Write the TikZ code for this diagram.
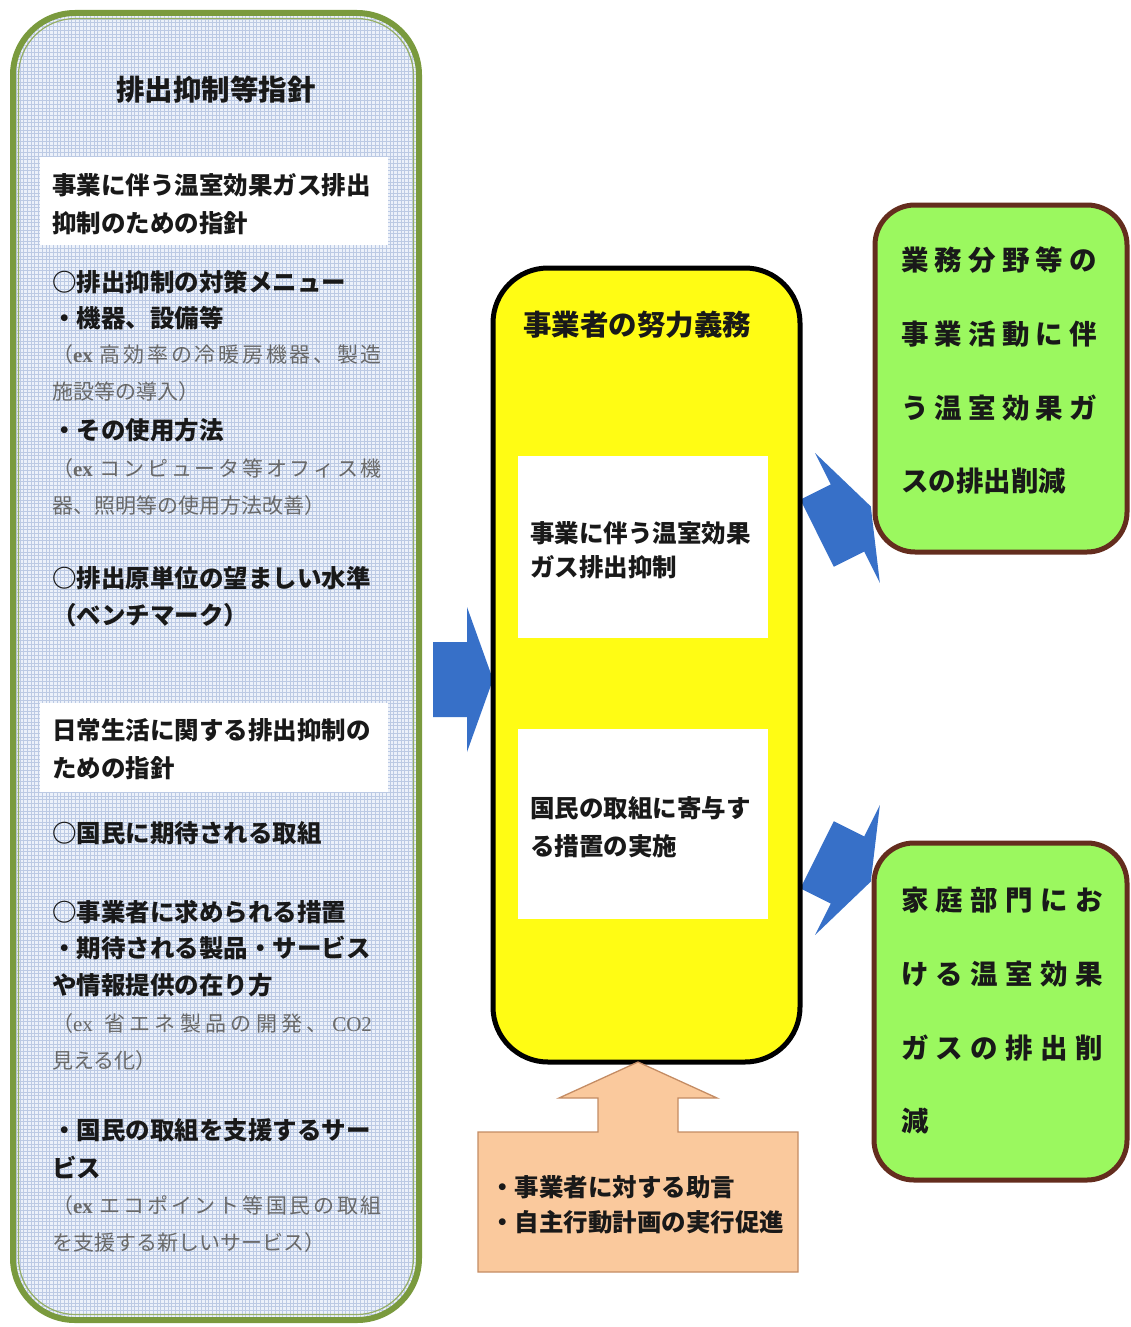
\documentclass[tikz,border=0pt]{standalone}
\usepackage{fontspec}
\setmainfont{Noto Sans CJK JP}
\newfontfamily\serifex{Liberation Serif}
\usetikzlibrary{calc}
\definecolor{guidefill}{RGB}{236,241,250}
\definecolor{gridline}{RGB}{188,202,228}
\definecolor{guidegreen}{RGB}{122,154,62}
\definecolor{dutyyellow}{RGB}{255,252,20}
\definecolor{arrowblue}{RGB}{55,112,200}
\definecolor{goalgreen}{RGB}{155,248,95}
\definecolor{goalbrown}{RGB}{100,45,30}
\definecolor{peach}{RGB}{250,201,157}
\definecolor{peachline}{RGB}{196,140,100}
\definecolor{exgray}{RGB}{105,105,105}
\definecolor{ink}{RGB}{25,25,25}
\tikzset{
  jb/.style={anchor=west, inner sep=0pt, outer sep=0pt, text=ink,
    font=\bfseries\fontsize{24.5}{30}\selectfont, text height=19.6pt, text depth=1pt},
  jg/.style={anchor=west, inner sep=0pt, outer sep=0pt, text=exgray,
    font=\fontsize{21}{26}\selectfont, text height=16.8pt, text depth=0.8pt},
  jt/.style={anchor=center, inner sep=0pt, outer sep=0pt, text=ink,
    font=\bfseries\fontsize{28.5}{34}\selectfont, text height=22.8pt, text depth=1.2pt},
  jgo/.style={anchor=west, inner sep=0pt, outer sep=0pt, text=ink,
    font=\bfseries\fontsize{27.5}{33}\selectfont, text height=22pt, text depth=1.1pt},
  guidebox/.style={draw=guidegreen, line width=6pt, fill=guidefill,
    rounded corners=62pt, inner sep=0pt, outer sep=0pt,
    path picture={\draw[gridline, line width=0.45pt, step=3.7pt]
      (path picture bounding box.south west) grid (path picture bounding box.north east);}},
  dutybox/.style={draw=black, line width=5pt, fill=dutyyellow, rounded corners=55pt,
    inner sep=0pt, outer sep=0pt},
  wbox/.style={fill=white, inner sep=0pt, outer sep=0pt},
  goalbox/.style={draw=goalbrown, line width=5pt, fill=goalgreen, rounded corners=40pt,
    inner sep=0pt, outer sep=0pt},
  advstyle/.style={draw=peachline, line width=1.3pt, fill=peach},
  barrow/.pic={\fill[arrowblue] (-34,-37.5) -- (0,-37.5) -- (0,-72.5) -- (26,0)
     -- (0,72.5) -- (0,37.5) -- (-34,37.5) -- cycle;}
}
\newcommand\exw{{\serifex\bfseries ex}\hspace{7pt}}
\newcommand\spreadline[2]{\makebox[#1][s]{\spaceskip=0pt plus 1fil\relax #2}}
\begin{document}
\begin{tikzpicture}[x=1pt,y=1pt]
\useasboundingbox[fill=white] (0,0) rectangle (1131,-1327);

% block arrows (drawn first, boxes cover their tips)
\pic (arrin) at (467,-679.5) {barrow};
\pic[rotate=26.5] (arrup) at (847.5,-518) {barrow};
\pic[rotate=-26.5] (arrdown) at (847.5,-870) {barrow};

% left guideline box
\node[guidebox, minimum width=406pt, minimum height=1307pt] (guide) at (216,-666.5) {};
\draw[guidegreen!80!white, line width=1.2pt, rounded corners=57pt]
  ($(guide.south west)+(5.5,5.5)$) rectangle ($(guide.north east)+(-5.5,-5.5)$);
\node[jt] (guidetitle) at (216,-90) {排出抑制等指針};
\node[wbox, minimum width=348pt, minimum height=88pt] (wl1) at (214,-201) {};
\node[jb] (a1) at (52,-185) {事業に伴う温室効果ガス排出};
\node[jb] (a2) at (52,-223) {抑制のための指針};
\node[jb] (a3) at (52,-282) {○排出抑制の対策メニュー};
\node[jb] (a4) at (52,-318) {・機器、設備等};
\node[jg] (a5) at (52,-354) {\spreadline{330pt}{（\exw 高 効 率 の 冷 暖 房 機 器 、 製 造}};
\node[jg] (a6) at (52,-391) {施設等の導入）};
\node[jb] (a7) at (52,-430) {・その使用方法};
\node[jg] (a8) at (52,-468) {\spreadline{330pt}{（\exw コ ン ピ ュ ー タ 等 オ フ ィ ス 機}};
\node[jg] (a9) at (52,-505) {器、照明等の使用方法改善）};
\node[jb] (a10) at (52,-578) {○排出原単位の望ましい水準};
\node[jb] (a11) at (52,-615) {（ベンチマーク）};
\node[wbox, minimum width=348pt, minimum height=89pt] (wl2) at (214,-747.5) {};
\node[jb] (b1) at (52,-730) {日常生活に関する排出抑制の};
\node[jb] (b2) at (52,-768) {ための指針};
\node[jb] (b3) at (52,-833) {○国民に期待される取組};
\node[jb] (b4) at (52,-912) {○事業者に求められる措置};
\node[jb] (b5) at (52,-948) {・期待される製品・サービス};
\node[jb] (b6) at (52,-985) {や情報提供の在り方};
\node[jg] (b7) at (52,-1023) {\spreadline{320pt}{（{\serifex ex}\hspace{7pt} 省 エ ネ 製 品 の 開 発 、 {\serifex CO2}}};
\node[jg] (b8) at (52,-1060) {見える化）};
\node[jb] (b9) at (52,-1130) {・国民の取組を支援するサー};
\node[jb] (b10) at (52,-1168) {ビス};
\node[jg] (b11) at (52,-1205) {\spreadline{330pt}{（\exw エ コ ポ イ ン ト 等 国 民 の 取 組}};
\node[jg] (b12) at (52,-1242) {を支援する新しいサービス）};

% central duty box
\node[dutybox, minimum width=307pt, minimum height=794pt] (duty) at (646.5,-665) {};
\node[jt] (dutytitle) at (637,-325) {事業者の努力義務};
\node[wbox, minimum width=250pt, minimum height=182pt] (wb1) at (643,-547) {};
\node[jb] (c1) at (530,-533) {事業に伴う温室効果};
\node[jb] (c2) at (530,-567) {ガス排出抑制};
\node[wbox, minimum width=250pt, minimum height=190pt] (wb2) at (643,-824) {};
\node[jb] (c3) at (530,-808) {国民の取組に寄与す};
\node[jb] (c4) at (530,-846) {る措置の実施};

% goal boxes
\node[goalbox, minimum width=252pt, minimum height=347pt] (g1) at (1001,-378.5) {};
\node[jgo] (d1) at (901,-260) {\spreadline{196pt}{業 務 分 野 等 の}};
\node[jgo] (d2) at (901,-334) {\spreadline{196pt}{事 業 活 動 に 伴}};
\node[jgo] (d3) at (901,-408) {\spreadline{196pt}{う 温 室 効 果 ガ}};
\node[jgo] (d4) at (901,-481) {スの排出削減};
\node[goalbox, minimum width=253pt, minimum height=337pt] (g2) at (1000.5,-1011.5) {};
\node[jgo] (e1) at (901,-900) {\spreadline{202pt}{家 庭 部 門 に お}};
\node[jgo] (e2) at (901,-974) {\spreadline{202pt}{け る 温 室 効 果}};
\node[jgo] (e3) at (901,-1048) {\spreadline{202pt}{ガ ス の 排 出 削}};
\node[jgo] (e4) at (901,-1121) {減};

% advice box with up arrow
\node[inner sep=0pt, outer sep=0pt, minimum width=320pt, minimum height=140pt] (adv) at (638,-1202) {};
\coordinate (tip) at (adv.north |- duty.south);
\draw[advstyle] (adv.south west) -- (adv.north west) -- ($(adv.north)+(-40,0)$)
  -- ($(adv.north)+(-40,34)$) -- ($(adv.north)+(-79,34)$) -- (tip)
  -- ($(adv.north)+(79,34)$) -- ($(adv.north)+(40,34)$) -- ($(adv.north)+(40,0)$)
  -- (adv.north east) -- (adv.south east) -- cycle;
\node[jb] (f1) at (490,-1187) {・事業者に対する助言};
\node[jb] (f2) at (490,-1222) {・自主行動計画の実行促進};
\end{tikzpicture}
\end{document}
